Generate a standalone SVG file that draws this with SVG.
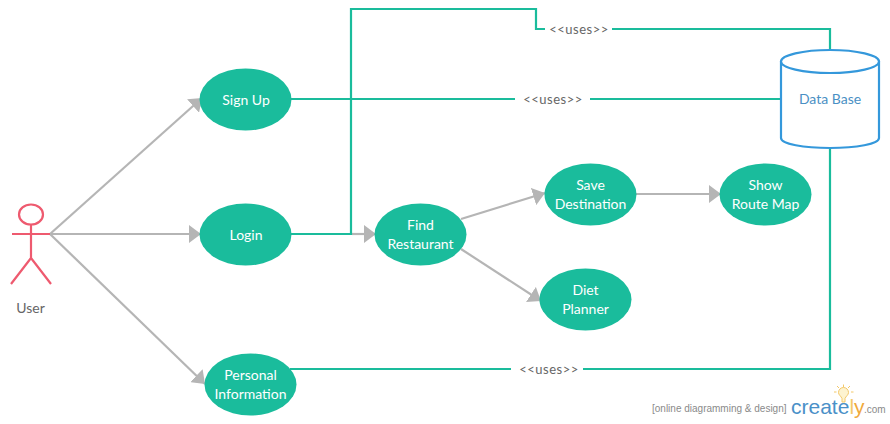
<svg xmlns="http://www.w3.org/2000/svg" width="890" height="424" viewBox="0 0 890 424">
<style>
text{font-family:Lato,"Open Sans","Liberation Sans",sans-serif}
.uc{fill:#1abc9c}
.ut{fill:#fff;font-size:14px;text-anchor:middle}
.tl{fill:none;stroke:#1abc9c;stroke-width:2.2}
.gl{fill:none;stroke:#b5b5b5;stroke-width:2.2;marker-end:url(#ah)}
.lb{fill:#666;font-size:13px;text-anchor:middle;letter-spacing:.5px}
.ac{fill:none;stroke:#ee5a6f;stroke-width:2.2}
.wm{font-family:"Liberation Sans",sans-serif}
</style>
<defs><marker id="ah" markerUnits="userSpaceOnUse" markerWidth="14" markerHeight="18" refX="12" refY="9" orient="auto" viewBox="0 0 14 18"><path d="M0 0L12 9L0 18Z" fill="#b5b5b5"/></marker></defs>
<rect width="890" height="424" fill="#fff"/>
<g id="connectors">
<path class="gl" d="M50 234L202 98"/>
<path class="gl" d="M50 234H201"/>
<path class="gl" d="M50 234L205 384"/>
<path class="gl" d="M352 234H376"/>
<path class="gl" d="M461 219L545 193"/>
<path class="gl" d="M461 249L541 301"/>
<path class="gl" d="M636 194H721"/>
<path class="tl" d="M291 234H351V9H536V29H545M612 29H830V50"/>
<path class="tl" d="M291 99H515M590 99H781"/>
<path class="tl" d="M290 369H511M583 369H830V148"/>
<text class="lb" x="579" y="34">&lt;&lt;uses&gt;&gt;</text>
<text class="lb" x="553" y="104">&lt;&lt;uses&gt;&gt;</text>
<text class="lb" x="549" y="374">&lt;&lt;uses&gt;&gt;</text>
</g>
<g id="user">
<ellipse class="ac" cx="31" cy="214.500" rx="12" ry="10"/>
<path class="ac" d="M31 225V258M12 234H50M31 258L11 284M31 258L51 284"/>
<text x="30.500" y="313" fill="#666" font-size="14" text-anchor="middle">User</text>
</g>
<g id="sign-up"><ellipse class="uc" cx="245.500" cy="99.500" rx="46" ry="31"/><text class="ut" x="246" y="105">Sign Up</text></g>
<g id="login"><ellipse class="uc" cx="245.500" cy="234.500" rx="46" ry="31"/><text class="ut" x="246" y="240">Login</text></g>
<g id="personal-information"><ellipse class="uc" cx="250.500" cy="384.500" rx="46" ry="31"/><text class="ut" x="250.500" y="380">Personal</text><text class="ut" x="250.500" y="399">Information</text></g>
<g id="find-restaurant"><ellipse class="uc" cx="420.500" cy="234.500" rx="46" ry="31"/><text class="ut" x="420.500" y="230">Find</text><text class="ut" x="420.500" y="249">Restaurant</text></g>
<g id="save-destination"><ellipse class="uc" cx="590.500" cy="194.500" rx="46" ry="31"/><text class="ut" x="590.500" y="190">Save</text><text class="ut" x="590.500" y="209">Destination</text></g>
<g id="show-route-map"><ellipse class="uc" cx="765.500" cy="194.500" rx="46" ry="31"/><text class="ut" x="765.500" y="190">Show</text><text class="ut" x="765.500" y="209">Route Map</text></g>
<g id="diet-planner"><ellipse class="uc" cx="585.500" cy="299.500" rx="46" ry="31"/><text class="ut" x="585.500" y="295">Diet</text><text class="ut" x="585.500" y="314">Planner</text></g>
<g id="data-base">
<path d="M781 61V138C781 144 804 148 830 148S879 144 879 138V61" fill="#fff" stroke="#3498db" stroke-width="2.200"/>
<ellipse cx="830" cy="61.500" rx="49" ry="11.500" fill="#fff" stroke="#3498db" stroke-width="2.200"/>
<text x="830" y="104" fill="#4a90c4" font-size="14" text-anchor="middle">Data Base</text>
</g>
<g id="watermark">
<text class="wm" x="652" y="412" fill="#8a8a8a" font-size="10">[online diagramming &amp; design]</text>
<text class="wm" x="791" y="414" fill="#4a90c8" font-size="21">create<tspan fill="#f3c869">l</tspan><tspan fill="#f0a93c">y</tspan></text>
<text class="wm" x="864" y="413" fill="#8a8a8a" font-size="10">.com</text>
<path d="M842 398.500C841 396 838.500 395 838.500 392.500a5 5 0 0 1 10 0C848.500 395 846 396 845 398.500V402H842Z" fill="#fdf3d0" stroke="#f3c869"/>
<path d="M843.500 384.500V387M834 392H836.500M851 392H853.500M837 386L839 388M850 386L848 388" stroke="#f3c869" fill="none"/>
</g>
</svg>
